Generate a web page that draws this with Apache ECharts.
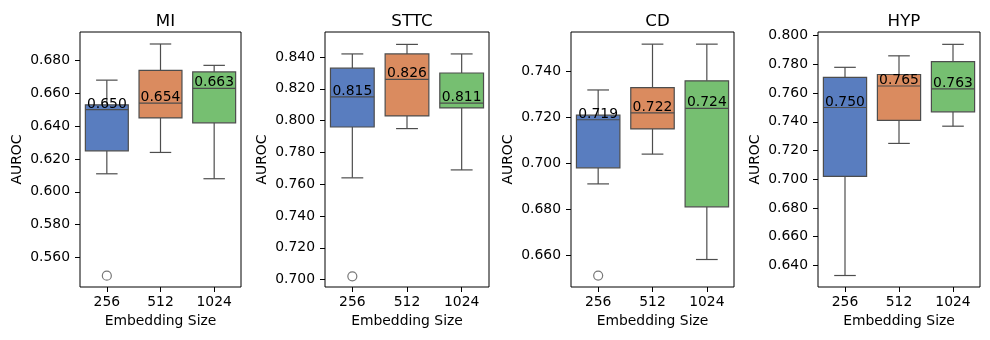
<!DOCTYPE html>
<html>
<head>
<meta charset="utf-8">
<script src="https://cdn.jsdelivr.net/npm/echarts@6/dist/echarts.min.js"></script>
<style>
  html, body { margin: 0; padding: 0; background: #fff; }
  #chart { width: 990px; height: 340px; }
</style>
</head>
<body>
<div id="chart"></div>
<script>
// categories and panel titles
const categories = ['256', '512', '1024'];
const panelTitles = ['MI', 'STTC', 'CD', 'HYP'];

// box stats per category: [low whisker, q1, median, q3, high whisker]
const miBoxes = [
  [0.611, 0.625, 0.650, 0.653, 0.668],
  [0.624, 0.645, 0.654, 0.674, 0.690],
  [0.608, 0.642, 0.663, 0.673, 0.677]
];
const sttcBoxes = [
  [0.764, 0.796, 0.815, 0.833, 0.842],
  [0.795, 0.803, 0.826, 0.842, 0.848],
  [0.769, 0.808, 0.811, 0.830, 0.842]
];
const cdBoxes = [
  [0.691, 0.698, 0.719, 0.721, 0.732],
  [0.704, 0.715, 0.722, 0.733, 0.752],
  [0.658, 0.681, 0.724, 0.736, 0.752]
];
const hypBoxes = [
  [0.633, 0.702, 0.750, 0.771, 0.778],
  [0.725, 0.741, 0.765, 0.773, 0.786],
  [0.737, 0.747, 0.763, 0.782, 0.794]
];

// outliers: [category index, value]
const miOutliers = [[0, 0.549]];
const sttcOutliers = [[0, 0.702]];
const cdOutliers = [[0, 0.651]];
const hypOutliers = [];

// y tick values
const miTicks = [0.56, 0.58, 0.60, 0.62, 0.64, 0.66, 0.68];
const sttcTicks = [0.70, 0.72, 0.74, 0.76, 0.78, 0.80, 0.82, 0.84];
const cdTicks = [0.66, 0.68, 0.70, 0.72, 0.74];
const hypTicks = [0.64, 0.66, 0.68, 0.70, 0.72, 0.74, 0.76, 0.78, 0.80];

const boxColors = ['#597dbf', '#da8b5f', '#76bf71'];
const lineColor = '#4d4d4d';
const font = 'DejaVu Sans';

const panels = [
  { boxes: miBoxes, outliers: miOutliers, ticks: miTicks, range: [0.5421, 0.6973], left: 80, width: 161 },
  { boxes: sttcBoxes, outliers: sttcOutliers, ticks: sttcTicks, range: [0.6953, 0.8558], left: 325, width: 164 },
  { boxes: cdBoxes, outliers: cdOutliers, ticks: cdTicks, range: [0.6460, 0.7573], left: 571, width: 163 },
  { boxes: hypBoxes, outliers: hypOutliers, ticks: hypTicks, range: [0.6250, 0.8026], left: 818, width: 162 }
];

function renderBox(params, api) {
  const x = api.value(0);
  const lo = api.value(1), q1 = api.value(2), med = api.value(3), q3 = api.value(4), hi = api.value(5);
  const bw = api.size([1, 0])[0] * 0.8;
  const cap = bw / 2;
  const pLo = api.coord([x, lo]);
  const pQ1 = api.coord([x, q1]);
  const pMed = api.coord([x, med]);
  const pQ3 = api.coord([x, q3]);
  const pHi = api.coord([x, hi]);
  const cx = pMed[0];
  const ls = { stroke: lineColor, lineWidth: 1.2 };
  return {
    type: 'group',
    children: [
      { type: 'line', shape: { x1: cx, y1: pQ3[1], x2: cx, y2: pHi[1] }, style: ls },
      { type: 'line', shape: { x1: cx, y1: pQ1[1], x2: cx, y2: pLo[1] }, style: ls },
      { type: 'line', shape: { x1: cx - cap / 2, y1: pHi[1], x2: cx + cap / 2, y2: pHi[1] }, style: ls },
      { type: 'line', shape: { x1: cx - cap / 2, y1: pLo[1], x2: cx + cap / 2, y2: pLo[1] }, style: ls },
      {
        type: 'rect',
        shape: { x: cx - bw / 2, y: pQ3[1], width: bw, height: pQ1[1] - pQ3[1] },
        style: { fill: boxColors[params.dataIndex], stroke: lineColor, lineWidth: 1.2 }
      },
      { type: 'line', shape: { x1: cx - bw / 2, y1: pMed[1], x2: cx + bw / 2, y2: pMed[1] }, style: ls },
      {
        type: 'text',
        x: cx, y: pMed[1] - 5.5,
        style: {
          text: med.toFixed(3), fill: '#000',
          font: '13.9px "DejaVu Sans"',
          textAlign: 'center', textVerticalAlign: 'middle'
        }
      }
    ]
  };
}

const option = {
  animation: false,
  backgroundColor: '#fff',
  textStyle: { fontFamily: font },
  title: [],
  grid: [],
  xAxis: [],
  yAxis: [],
  series: []
};

panels.forEach((p, i) => {
  option.title.push({
    text: panelTitles[i],
    left: p.left + p.width / 2,
    top: 8,
    textAlign: 'center',
    textStyle: { fontFamily: font, fontSize: 16.7, fontWeight: 'normal', color: '#000' }
  });
  option.grid.push({
    left: p.left, top: 32, width: p.width, height: 255,
    show: true, borderColor: '#000', borderWidth: 1, backgroundColor: 'transparent'
  });
  option.xAxis.push({
    type: 'category', gridIndex: i, data: categories,
    name: 'Embedding Size', nameLocation: 'middle', nameGap: 24,
    nameTextStyle: { fontFamily: font, fontSize: 13.9, color: '#000' },
    axisLine: { show: false },
    axisTick: { show: true, alignWithLabel: true, length: 5, lineStyle: { color: '#000' } },
    axisLabel: { fontFamily: font, fontSize: 13.9, color: '#000', margin: 8 },
    splitLine: { show: false }
  });
  option.yAxis.push({
    type: 'value', gridIndex: i, min: p.range[0], max: p.range[1],
    name: 'AUROC', nameLocation: 'middle', nameGap: 56,
    nameTextStyle: { fontFamily: font, fontSize: 13.9, color: '#000' },
    axisLine: { show: false },
    axisTick: { show: true, length: 5, customValues: p.ticks, lineStyle: { color: '#000' } },
    axisLabel: {
      fontFamily: font, fontSize: 13.9, color: '#000', margin: 10,
      customValues: p.ticks,
      formatter: (v) => v.toFixed(3)
    },
    splitLine: { show: false }
  });
  option.series.push({
    type: 'custom', xAxisIndex: i, yAxisIndex: i,
    renderItem: renderBox,
    encode: { x: 0, y: [1, 2, 3, 4, 5] },
    data: p.boxes.map((b, k) => [k, ...b])
  });
  option.series.push({
    type: 'scatter', xAxisIndex: i, yAxisIndex: i,
    symbol: 'circle', symbolSize: 9,
    itemStyle: { color: '#fff', borderColor: '#555', borderWidth: 1.2 },
    data: p.outliers
  });
});

const chart = echarts.init(document.getElementById('chart'));
chart.setOption(option);
</script>
</body>
</html>
